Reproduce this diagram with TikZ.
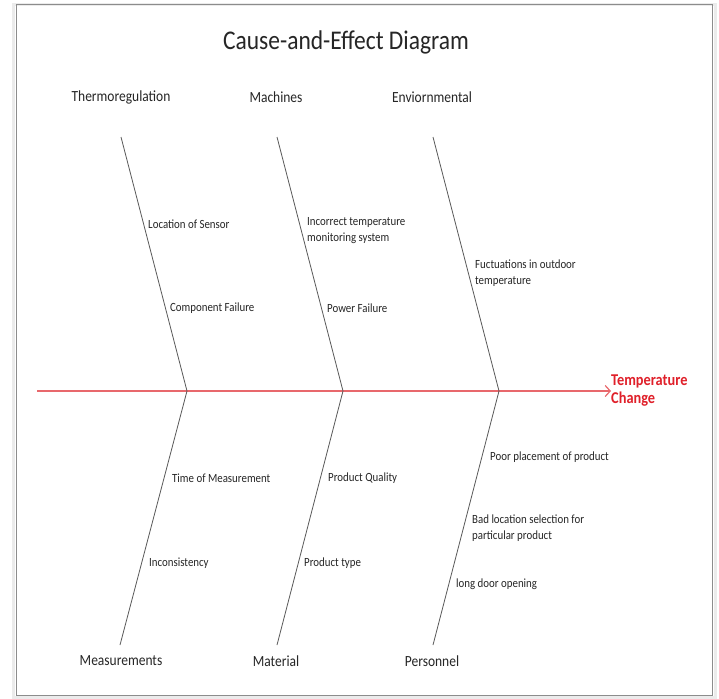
\documentclass[tikz,border=0pt]{standalone}
\usepackage{fontspec}
\setmainfont{Carlito}[FakeStretch=0.87]
\usetikzlibrary{positioning, arrows.meta}

\definecolor{spinered}{HTML}{E8686C}
\definecolor{effectred}{HTML}{E0202A}

\begin{document}
\begin{tikzpicture}[x=1pt, y=-1pt,
		bone/.style={draw=black!65, line width=0.8pt},
		spine/.style={draw=spinered, line width=1.2pt, -{Straight Barb[length=5pt, width=11pt]}},
		category/.style={font=\fontsize{15.5}{17}\selectfont, text=black!85, inner sep=0pt},
		cause/.style={font=\fontsize{12.5}{16}\selectfont, text=black!85, anchor=west, align=left, inner sep=0pt},
		effect/.style={font=\fontsize{16.5}{18}\selectfont\bfseries, text=effectred, anchor=west, align=left, inner sep=0pt}
		]
		
		% ----- Frame -----
		\useasboundingbox (0,0) rectangle (719,698);
		\fill[white] (0,0) rectangle (719,698);
		\draw[black!8, line width=3pt] (13,5) rectangle (715,697);
		\draw[black!45, line width=1pt] (16,5) rectangle (712,695);
		
		% ----- Title -----
		\node[font=\fontsize{27}{30}\selectfont, text=black!85] (title) at (346,42) {Cause-and-Effect Diagram};
		
		% ----- Spine -----
		\coordinate (tail) at (37,391);
		\node[effect] (effect) at (611,391) {Temperature\\Change};
		\draw[spine] (tail) -- (effect.west);
		
		% Bone ends
		\coordinate (j1) at (187,391);
		\coordinate (j2) at (343,391);
		\coordinate (j3) at (499,391);
		\coordinate (t1) at (121,137);
		\coordinate (t2) at (277,137);
		\coordinate (t3) at (433,137);
		\coordinate (b1) at (120,645);
		\coordinate (b2) at (277,645);
		\coordinate (b3) at (433,645);
		
		\draw[bone] (t1) -- (j1) -- (b1);
		\draw[bone] (t2) -- (j2) -- (b2);
		\draw[bone] (t3) -- (j3) -- (b3);
		
		% ----- Categories -----
		\node[category] (thermo) at (121,97) {Thermoregulation};
		\node[category] (mach) at (276,97) {Machines};
		\node[category] (env) at (432,97) {Enviornmental};
		\node[category] (meas) at (121,661) {Measurements};
		\node[category] (mat) at (276,661) {Material};
		\node[category] (pers) at (432,661) {Personnel};
		
		% ----- Causes (top) -----
		\node[cause] (sensor) at (148,224) {Location of Sensor};
		\node[cause] (compfail) at (170,308) {Component Failure};
		\node[cause] (monitor) at (307,231) {Incorrect temperature\\monitoring system};
		\node[cause] (power) at (327,308) {Power Failure};
		\node[cause] (outdoor) at (475,273) {Fuctuations in outdoor\\temperature};
		
		% ----- Causes (bottom) -----
		\node[cause] (timemeas) at (172,478) {Time of Measurement};
		\node[cause] (incons) at (149,563) {Inconsistency};
		\node[cause] (quality) at (328,478) {Product Quality};
		\node[cause] (ptype) at (304,563) {Product type};
		\node[cause] (placement) at (490,457) {Poor placement of product};
		\node[cause] (badloc) at (472,528) {Bad location selection for\\particular product};
		\node[cause] (door) at (456,584) {long door opening};
		
	\end{tikzpicture}
\end{document}
